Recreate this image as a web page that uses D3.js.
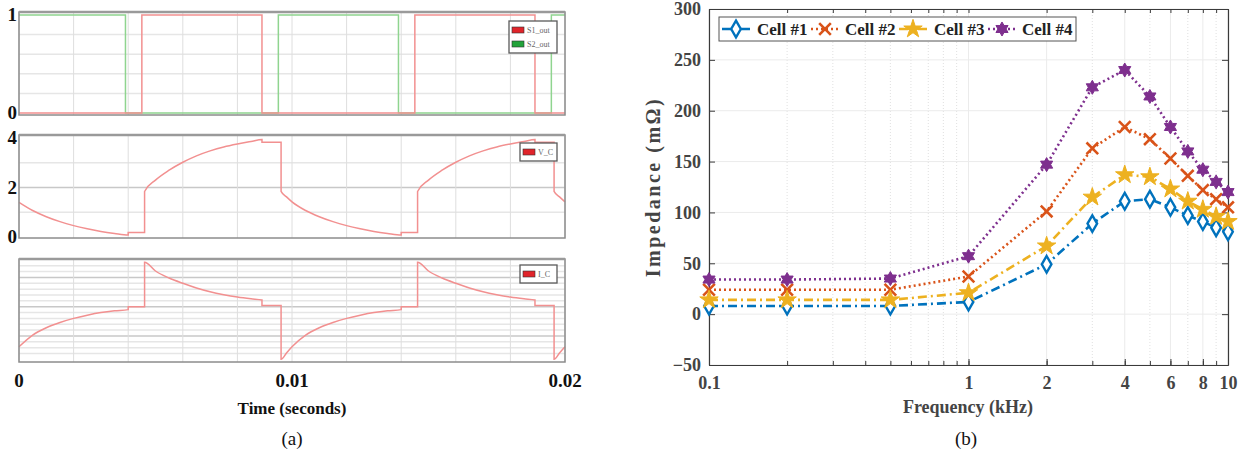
<!DOCTYPE html>
<html>
<head>
<meta charset="utf-8">
<script src="https://cdn.jsdelivr.net/npm/d3@7"></script>
<style>
  body { margin: 0; background: #fff; }
  svg { display: block; }
  text { font-family: "Liberation Serif", "Times New Roman", serif; }
</style>
</head>
<body>
<svg id="fig" width="1244" height="453"></svg>
<script>
// ---------- panel (a) data: switch signals, capacitor voltage, capacitor current ----------
var s1Time = [0, 0.0045, 0.0089, 0.0145, 0.0189, 0.02];
var s1Value = [0, 1, 0, 1, 0, 0];
var s2Time = [0, 0.0039, 0.0095, 0.0139, 0.0195, 0.02];
var s2Value = [1, 0, 1, 0, 1, 1];

var vcTime = [0, 0.0005, 0.001, 0.0015, 0.002, 0.0025, 0.003, 0.0035, 0.004, 0.004, 0.0046, 0.0046,
  0.005, 0.0055, 0.006, 0.0065, 0.007, 0.0075, 0.008, 0.0085, 0.0089, 0.0089, 0.0096, 0.0096, 0.0098,
  0.0100, 0.0105, 0.011, 0.0115, 0.012, 0.0125, 0.013, 0.0135, 0.014, 0.014, 0.0146, 0.0146,
  0.015, 0.0155, 0.016, 0.0165, 0.017, 0.0175, 0.018, 0.0185, 0.0189, 0.0189, 0.0196, 0.0196, 0.0198, 0.02];
var vcValue = [1.40, 1.07, 0.82, 0.62, 0.46, 0.33, 0.22, 0.14, 0.08, 0.18, 0.18, 1.84,
  2.30, 2.70, 3.02, 3.28, 3.48, 3.64, 3.76, 3.86, 3.94, 3.83, 3.83, 1.84, 1.62,
  1.42, 1.07, 0.82, 0.62, 0.46, 0.33, 0.22, 0.14, 0.08, 0.18, 0.18, 1.84,
  2.30, 2.70, 3.02, 3.28, 3.48, 3.64, 3.76, 3.86, 3.94, 3.83, 3.83, 1.84, 1.62, 1.42];

var icTime = vcTime;
var icValue = [-1.37, -0.97, -0.72, -0.54, -0.40, -0.29, -0.20, -0.14, -0.10, 0.0, 0.0, 1.52,
  1.22, 0.98, 0.80, 0.64, 0.51, 0.41, 0.33, 0.27, 0.23, 0.04, 0.04, -1.80, -1.58,
  -1.37, -0.97, -0.72, -0.54, -0.40, -0.29, -0.20, -0.14, -0.10, 0.0, 0.0, 1.52,
  1.22, 0.98, 0.80, 0.64, 0.51, 0.41, 0.33, 0.27, 0.23, 0.04, 0.04, -1.80, -1.58, -1.37];

var timeTicks = [0, 0.01, 0.02];

// ---------- panel (b) data: impedance vs frequency ----------
var freq = [0.1, 0.2, 0.5, 1, 2, 3, 4, 5, 6, 7, 8, 9, 10];
var cell1 = [8, 8, 8, 12, 49, 89, 111, 113, 105, 97, 91, 85, 81];
var cell2 = [24, 24, 24, 37, 101, 163, 184, 172, 153, 136, 122, 113, 105];
var cell3 = [14, 14, 14, 21, 67, 115, 137, 135, 123, 111, 103, 96, 91];
var cell4 = [34, 34, 35, 57, 147, 223, 240, 214, 184, 160, 142, 130, 120];
var cellNames = ["Cell #1", "Cell #2", "Cell #3", "Cell #4"];
var freqTicks = [0.1, 1, 2, 4, 6, 8, 10];
var impTicks = [-50, 0, 50, 100, 150, 200, 250, 300];

var svg = d3.select("#fig");

// =================== panel (a) ===================
var tx = d3.scaleLinear().domain([0, 0.02]).range([19, 565]);
var gridT = d3.range(0, 11).map(function (i) { return i * 0.002; });

var subplots = [
  { top: 12, bottom: 115, y: d3.scaleLinear().domain([0, 1]).range([113, 15]),
    grid: [0.2, 0.4, 0.6, 0.8], dark: [], labels: [0, 1] },
  { top: 135, bottom: 238, y: d3.scaleLinear().domain([0, 4]).range([237, 138]),
    grid: [1, 3], dark: [2], labels: [0, 2, 4] },
  { top: 259, bottom: 362, y: d3.scaleLinear().domain([-1.88, 1.62]).range([361.7, 259.3]),
    grid: [-1.6, -1.4, -1.2, -0.8, -0.6, -0.4, -0.2, 0.2, 0.4, 0.6, 0.8, 1.2, 1.4], dark: [-1, 0, 1], labels: [] }
];

subplots.forEach(function (p) {
  var g = svg.append("g");
  g.append("rect").attr("x", tx(0)).attr("y", p.top)
    .attr("width", tx(0.02) - tx(0)).attr("height", p.bottom - p.top)
    .attr("fill", "#fff");
  g.selectAll(".hg").data(p.grid).enter().append("line")
    .attr("x1", tx(0)).attr("x2", tx(0.02))
    .attr("y1", function (d) { return p.y(d); }).attr("y2", function (d) { return p.y(d); })
    .attr("stroke", "#e6e6e6").attr("stroke-width", 1.5);
  g.selectAll(".hd").data(p.dark).enter().append("line")
    .attr("x1", tx(0)).attr("x2", tx(0.02))
    .attr("y1", function (d) { return p.y(d); }).attr("y2", function (d) { return p.y(d); })
    .attr("stroke", "#c8c8c8").attr("stroke-width", 1.5);
  g.selectAll(".vg").data(gridT).enter().append("line")
    .attr("x1", function (d) { return tx(d); }).attr("x2", function (d) { return tx(d); })
    .attr("y1", p.top).attr("y2", p.bottom)
    .attr("stroke", "#dedede").attr("stroke-width", 1);
  p.g = g;
  g.selectAll(".yl").data(p.labels).enter().append("text")
    .attr("x", 17).attr("y", function (d) { return p.y(d) + 6; })
    .attr("text-anchor", "end").attr("font-size", 19).attr("font-weight", "bold")
    .attr("fill", "#111").text(function (d) { return d; });
});

var stepLine = d3.line().curve(d3.curveStepAfter)
  .x(function (d) { return tx(d[0]); });

var p1 = subplots[0];
p1.g.append("path")
  .datum(d3.zip(s2Time, s2Value))
  .attr("d", stepLine.y(function (d) { return p1.y(d[1]); }))
  .attr("fill", "none").attr("stroke", "#8fd48f").attr("stroke-width", 1.5);
p1.g.append("path")
  .datum(d3.zip(s1Time, s1Value))
  .attr("d", stepLine.y(function (d) { return p1.y(d[1]); }))
  .attr("fill", "none").attr("stroke", "#f29090").attr("stroke-width", 1.5);

var p2 = subplots[1];
p2.g.append("path")
  .datum(d3.zip(vcTime, vcValue))
  .attr("d", d3.line().curve(d3.curveMonotoneX).x(function (d) { return tx(d[0]); }).y(function (d) { return p2.y(d[1]); }))
  .attr("fill", "none").attr("stroke", "#f29090").attr("stroke-width", 1.5);

var p3 = subplots[2];
p3.g.append("path")
  .datum(d3.zip(icTime, icValue))
  .attr("d", d3.line().curve(d3.curveMonotoneX).x(function (d) { return tx(d[0]); }).y(function (d) { return p3.y(d[1]); }))
  .attr("fill", "none").attr("stroke", "#f29090").attr("stroke-width", 1.5);

// frames
subplots.forEach(function (p) {
  p.g.append("rect").attr("x", tx(0)).attr("y", p.top)
    .attr("width", tx(0.02) - tx(0)).attr("height", p.bottom - p.top)
    .attr("fill", "none").attr("stroke", "#8c8c8c").attr("stroke-width", 1.5);
  p.g.append("line").attr("x1", tx(0)).attr("x2", tx(0.02))
    .attr("y1", p.top).attr("y2", p.top)
    .attr("stroke", "#9a9a9a").attr("stroke-width", 2.5);
});

// small legends
var legA = [
  { p: p1, y0: 21, items: [["S1_out", "#e0242a"], ["S2_out", "#22a33a"]] },
  { p: p2, y0: 143, items: [["V_C", "#e0242a"]] },
  { p: p3, y0: 265, items: [["I_C", "#e0242a"]] }
];
legA.forEach(function (l) {
  var w = l.items.length > 1 ? 48 : 37;
  var x0 = 557 - w;
  var h = l.items.length * 14 + 4;
  l.p.g.append("rect").attr("x", x0).attr("y", l.y0).attr("width", w).attr("height", h)
    .attr("fill", "#fff").attr("stroke", "#5a5a5a").attr("stroke-width", 1.3);
  l.items.forEach(function (it, i) {
    var cy = l.y0 + 9 + i * 14;
    l.p.g.append("rect").attr("x", x0 + 3).attr("y", cy - 3).attr("width", 12).attr("height", 6)
      .attr("fill", it[1]).attr("stroke", "#333").attr("stroke-width", 0.6);
    l.p.g.append("text").attr("x", x0 + 18).attr("y", cy + 3)
      .attr("font-family", "DejaVu Sans").attr("font-size", 8).attr("fill", "#666")
      .text(it[0]);
  });
});

// time axis labels
svg.selectAll(".tt").data(timeTicks).enter().append("text")
  .attr("x", function (d) { return tx(d); }).attr("y", 387)
  .attr("text-anchor", "middle").attr("font-size", 19).attr("font-weight", "bold")
  .attr("fill", "#111").text(function (d) { return d; });
svg.append("text").attr("x", tx(0.01)).attr("y", 414)
  .attr("text-anchor", "middle").attr("font-size", 17).attr("font-weight", "bold")
  .attr("fill", "#111").text("Time (seconds)");
svg.append("text").attr("x", tx(0.01)).attr("y", 445)
  .attr("text-anchor", "middle").attr("font-size", 19)
  .attr("fill", "#111").text("(a)");

// =================== panel (b) ===================
var x = d3.scaleLog().domain([0.1, 10]).range([709, 1228]);
var y = d3.scaleLinear().domain([-50, 300]).range([365, 9]);
var gb = svg.append("g");

var minorTicks = [];
[0.1, 1].forEach(function (dec) {
  d3.range(1, 10).forEach(function (m) { minorTicks.push(+(dec * m).toFixed(2)); });
});
minorTicks.push(10);
var minorOnly = minorTicks.filter(function (d) { return freqTicks.indexOf(d) < 0; });

gb.selectAll(".mg").data(minorOnly).enter().append("line")
  .attr("x1", function (d) { return x(d); }).attr("x2", function (d) { return x(d); })
  .attr("y1", y(300)).attr("y2", y(-50))
  .attr("stroke", "#d8d8d8").attr("stroke-width", 0.8).attr("stroke-dasharray", "1,2");
gb.selectAll(".xg").data(freqTicks).enter().append("line")
  .attr("x1", function (d) { return x(d); }).attr("x2", function (d) { return x(d); })
  .attr("y1", y(300)).attr("y2", y(-50))
  .attr("stroke", "#ebebeb").attr("stroke-width", 1);
gb.selectAll(".yg").data(impTicks).enter().append("line")
  .attr("x1", x(0.1)).attr("x2", x(10))
  .attr("y1", function (d) { return y(d); }).attr("y2", function (d) { return y(d); })
  .attr("stroke", "#ebebeb").attr("stroke-width", 1);

function styleAxis(sel) {
  sel.selectAll("path").attr("stroke", "#3a3a3a").attr("stroke-width", 1.2);
  sel.selectAll("line").attr("stroke", "#3a3a3a").attr("stroke-width", 1);
  sel.selectAll("text").attr("font-family", "Liberation Serif").attr("font-size", 18)
    .attr("font-weight", "bold").attr("fill", "#444");
}

gb.append("g").attr("transform", "translate(0," + y(-50) + ")")
  .call(d3.axisBottom(x).tickValues(minorTicks).tickFormat("").tickSize(-4).tickSizeOuter(0))
  .call(styleAxis);
gb.append("g").attr("transform", "translate(0," + y(-50) + ")")
  .call(d3.axisBottom(x).tickValues(freqTicks).tickFormat(function (d) { return d; })
    .tickSize(-6).tickSizeOuter(0).tickPadding(11))
  .call(styleAxis);
gb.append("g").attr("transform", "translate(0," + y(300) + ")")
  .call(d3.axisTop(x).tickValues(minorTicks).tickFormat("").tickSize(-4).tickSizeOuter(0))
  .call(styleAxis);
gb.append("g").attr("transform", "translate(" + x(0.1) + ",0)")
  .call(d3.axisLeft(y).tickValues(impTicks).tickSize(-6).tickSizeOuter(0).tickPadding(8))
  .call(styleAxis);
gb.append("g").attr("transform", "translate(" + x(10) + ",0)")
  .call(d3.axisRight(y).tickValues(impTicks).tickFormat("").tickSize(-6).tickSizeOuter(0))
  .call(styleAxis);

// hexagram marker
var symbolHexagram = {
  draw: function (ctx, size) {
    var r = Math.sqrt(size) * 0.72, ri = r / Math.sqrt(3);
    for (var i = 0; i < 12; i++) {
      var a = Math.PI / 2 + i * Math.PI / 6;
      var rr = i % 2 === 0 ? r : ri;
      var px = rr * Math.cos(a), py = -rr * Math.sin(a);
      if (i === 0) ctx.moveTo(px, py); else ctx.lineTo(px, py);
    }
    ctx.closePath();
  }
};

var series = [
  { name: cellNames[0], values: cell1, color: "#0072BD", dash: "9,4,2,4", sym: d3.symbolDiamond, size: 80, fill: "#fff", sw: 2.4 },
  { name: cellNames[1], values: cell2, color: "#D95319", dash: "2,3", sym: d3.symbolX, size: 90, fill: "none", sw: 2.6 },
  { name: cellNames[2], values: cell3, color: "#EDB120", dash: "9,4,2,4", sym: d3.symbolStar, size: 105, fill: "#EDB120", sw: 1 },
  { name: cellNames[3], values: cell4, color: "#7E2F8E", dash: "2,3", sym: symbolHexagram, size: 95, fill: "#7E2F8E", sw: 1 }
];

var line = d3.line()
  .x(function (d) { return x(d[0]); })
  .y(function (d) { return y(d[1]); });

series.forEach(function (s) {
  var pts = d3.zip(freq, s.values);
  gb.append("path").datum(pts).attr("d", line)
    .attr("fill", "none").attr("stroke", s.color).attr("stroke-width", 2.6)
    .attr("stroke-dasharray", s.dash);
  gb.selectAll(null).data(pts).enter().append("path")
    .attr("transform", function (d) { return "translate(" + x(d[0]) + "," + y(d[1]) + ")"; })
    .attr("d", d3.symbol().type(s.sym).size(s.size))
    .attr("fill", s.fill).attr("stroke", s.color).attr("stroke-width", s.sw);
});

// legend
var leg = gb.append("g");
leg.append("rect").attr("x", 719).attr("y", 17).attr("width", 357).attr("height", 24)
  .attr("fill", "#fff").attr("stroke", "#555").attr("stroke-width", 1);
var legX = [722, 811, 899, 988];
var legText = [757, 845, 934, 1022];
series.forEach(function (s, i) {
  leg.append("line").attr("x1", legX[i]).attr("x2", legX[i] + 28).attr("y1", 29).attr("y2", 29)
    .attr("stroke", s.color).attr("stroke-width", 2.6).attr("stroke-dasharray", s.dash);
  leg.append("path").attr("transform", "translate(" + (legX[i] + 14) + ",29)")
    .attr("d", d3.symbol().type(s.sym).size(s.size))
    .attr("fill", s.fill).attr("stroke", s.color).attr("stroke-width", s.sw);
  leg.append("text").attr("x", legText[i]).attr("y", 35)
    .attr("font-size", 17).attr("font-weight", "bold").attr("fill", "#222").text(s.name);
});

// axis titles
svg.append("text")
  .attr("transform", "translate(660," + ((y(300) + y(-50)) / 2) + ") rotate(-90)")
  .attr("text-anchor", "middle").attr("font-size", 20).attr("font-weight", "bold")
  .attr("letter-spacing", 2.5).attr("fill", "#444").text("Impedance (mΩ)");
svg.append("text").attr("x", 968).attr("y", 413)
  .attr("text-anchor", "middle").attr("font-size", 18).attr("font-weight", "bold")
  .attr("fill", "#444").text("Frequency (kHz)");
svg.append("text").attr("x", 966).attr("y", 445)
  .attr("text-anchor", "middle").attr("font-size", 19)
  .attr("fill", "#111").text("(b)");
</script>
</body>
</html>
